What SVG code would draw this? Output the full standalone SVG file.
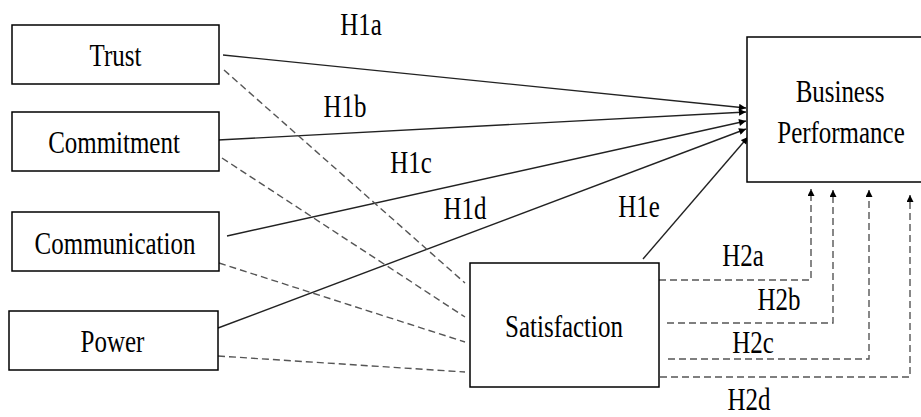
<svg xmlns="http://www.w3.org/2000/svg" width="921" height="417" viewBox="0 0 921 417">
<style>
.box{fill:#fff;stroke:#000;stroke-width:1.5}
.t{font-size:32px;fill:#000;text-anchor:middle}
.s{fill:none;stroke:#222;stroke-width:1.4}
.d{fill:none;stroke:#555;stroke-width:1.4;stroke-dasharray:7 4}
</style>
<defs>
<marker id="ah" viewBox="0 0 10 10" refX="10" refY="5" markerWidth="8" markerHeight="7" markerUnits="userSpaceOnUse" orient="auto">
<path d="M0,0 L10,5 L0,10 z" fill="#000"/>
</marker>
</defs>
<rect width="921" height="417" fill="#fff"/>
<g id="connectors">
<line class="s" x1="223" y1="55" x2="746" y2="108" marker-end="url(#ah)"/>
<line class="s" x1="218" y1="140" x2="746" y2="112" marker-end="url(#ah)"/>
<line class="s" x1="227" y1="236" x2="746" y2="121" marker-end="url(#ah)"/>
<line class="s" x1="218" y1="328" x2="746" y2="129" marker-end="url(#ah)"/>
<line class="s" x1="643" y1="259" x2="748" y2="137" marker-end="url(#ah)"/>
<line class="d" x1="224" y1="70" x2="465" y2="283"/>
<line class="d" x1="222" y1="158" x2="465" y2="317"/>
<line class="d" x1="219" y1="263" x2="465" y2="342"/>
<line class="d" x1="218" y1="356" x2="465" y2="372"/>
<polyline class="d" points="659,280 811,280 811,189" marker-end="url(#ah)"/>
<polyline class="d" points="667,323 833,323 833,190" marker-end="url(#ah)"/>
<polyline class="d" points="668,359 869,359 869,190" marker-end="url(#ah)"/>
<polyline class="d" points="660,377 910,377 910,195" marker-end="url(#ah)"/>
</g>
<g font-family="Liberation Serif, Times New Roman, serif">
<g id="trust"><rect class="box" x="12" y="25" width="207" height="59"/><text class="t" transform="translate(115.5,66) scale(0.78,1)">Trust</text></g>
<g id="commitment"><rect class="box" x="12" y="112" width="207" height="59"/><text class="t" transform="translate(114,153) scale(0.78,1)">Commitment</text></g>
<g id="communication"><rect class="box" x="12" y="212" width="207" height="59"/><text class="t" transform="translate(115,254) scale(0.78,1)">Communication</text></g>
<g id="power"><rect class="box" x="9" y="311" width="209" height="59"/><text class="t" transform="translate(112.5,352) scale(0.78,1)">Power</text></g>
<g id="satisfaction"><rect class="box" x="470" y="263" width="189" height="124"/><text class="t" transform="translate(564,337) scale(0.78,1)">Satisfaction</text></g>
<g id="business-performance"><rect class="box" x="747" y="37" width="180" height="145"/><text class="t" transform="translate(840,102) scale(0.78,1)">Business</text><text class="t" transform="translate(841,143) scale(0.78,1)">Performance</text></g>
<g id="labels">
<text class="t" transform="translate(361,35) scale(0.78,1)">H1a</text>
<text class="t" transform="translate(345,117) scale(0.78,1)">H1b</text>
<text class="t" transform="translate(411,173) scale(0.78,1)">H1c</text>
<text class="t" transform="translate(465,219) scale(0.78,1)">H1d</text>
<text class="t" transform="translate(639,217) scale(0.78,1)">H1e</text>
<text class="t" transform="translate(743,266) scale(0.78,1)">H2a</text>
<text class="t" transform="translate(779,310) scale(0.78,1)">H2b</text>
<text class="t" transform="translate(753,353) scale(0.78,1)">H2c</text>
<text class="t" transform="translate(749,410) scale(0.78,1)">H2d</text>
</g>
</g>
</svg>
